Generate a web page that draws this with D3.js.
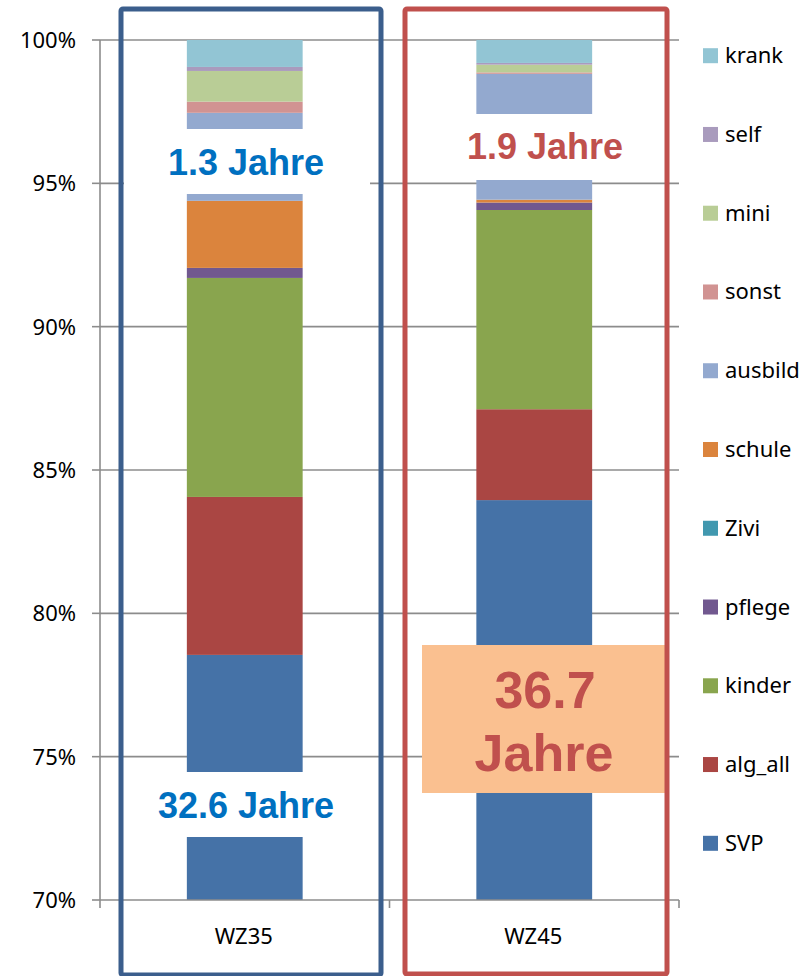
<!DOCTYPE html>
<html><head><meta charset="utf-8">
<script src="https://cdn.jsdelivr.net/npm/d3@7"></script>
<style>body{margin:0;background:#fff}svg{display:block}</style>
</head><body>
<svg id="c" width="810" height="976"></svg>
<script>
const categories = ["WZ35", "WZ45"];
const seriesKeys = ["SVP","alg_all","kinder","pflege","Zivi","schule","ausbild","sonst","mini","self","krank"];
const SVP     = [78.55, 83.95];
const alg_all = [5.51, 3.17];
const kinder  = [7.64, 6.95];
const pflege  = [0.35, 0.26];
const Zivi    = [0.00, 0.00];
const schule  = [2.34, 0.10];
const ausbild = [3.07, 4.39];
const sonst   = [0.39, 0.05];
const mini    = [1.07, 0.27];
const self    = [0.14, 0.06];
const krank   = [0.94, 0.80];
const seriesValues = {SVP, alg_all, kinder, pflege, Zivi, schule, ausbild, sonst, mini, self, krank};
const colors = {SVP:"#4572A7",alg_all:"#AA4643",kinder:"#89A54E",pflege:"#71588F",Zivi:"#4198AF",
  schule:"#DB843D",ausbild:"#93A9CF",sonst:"#D19392",mini:"#B9CD96",self:"#A99BBD",krank:"#92C5D4"};
const yTicks = [70,75,80,85,90,95,100];
const legendOrder = ["krank","self","mini","sonst","ausbild","schule","Zivi","pflege","kinder","alg_all","SVP"];

const svg = d3.select("#c");
const x = d3.scaleBand().domain(categories).range([100,679]).paddingInner(0.6).paddingOuter(0.3);
const xb = d3.scaleBand().domain(categories).range([100,679]);
const y = d3.scaleLinear().domain([70,100]).range([900,40]).clamp(true);
const font = "'Noto Sans', 'Open Sans', sans-serif";
const grid = "#8c8c8c";

// gridlines
svg.append("g").selectAll("line").data(yTicks.filter(d=>d>70)).join("line")
  .attr("x1",100).attr("x2",679).attr("y1",d=>y(d)).attr("y2",d=>y(d))
  .attr("stroke",grid).attr("stroke-width",1.6);

// stacked data
const rows = categories.map((c,i)=>{const o={cat:c}; seriesKeys.forEach(k=>o[k]=seriesValues[k][i]); return o;});
const stack = d3.stack().keys(seriesKeys)(rows);
svg.append("g").selectAll("g").data(stack).join("g").attr("fill",d=>colors[d.key])
  .selectAll("rect").data(d=>d).join("rect")
  .attr("x",d=>x(d.data.cat)).attr("width",x.bandwidth())
  .attr("y",d=>y(d[1])).attr("height",d=>y(d[0])-y(d[1]));

// axes
svg.append("line").attr("x1",100).attr("x2",100).attr("y1",y(100)).attr("y2",y(70)).attr("stroke",grid).attr("stroke-width",1.6);
svg.append("line").attr("x1",100).attr("x2",679).attr("y1",y(70)).attr("y2",y(70)).attr("stroke",grid).attr("stroke-width",1.6);
svg.append("g").selectAll("line").data(yTicks).join("line")
  .attr("x1",92).attr("x2",100).attr("y1",d=>y(d)).attr("y2",d=>y(d)).attr("stroke",grid).attr("stroke-width",1.6);
svg.append("g").selectAll("text").data(yTicks).join("text")
  .attr("x",76).attr("y",d=>y(d)+8).attr("text-anchor","end")
  .attr("font-family",font).attr("font-size",22).attr("fill","#000").text(d=>d+"%");
const xTickPos = [100].concat(categories.map(c=>xb(c)+xb.bandwidth()));
svg.append("g").selectAll("line").data(xTickPos).join("line")
  .attr("x1",d=>d).attr("x2",d=>d).attr("y1",y(70)).attr("y2",y(70)+8).attr("stroke",grid).attr("stroke-width",1.6);
svg.append("g").selectAll("text").data(categories).join("text")
  .attr("x",d=>xb(d)+xb.bandwidth()/2-1).attr("y",944).attr("text-anchor","middle")
  .attr("font-family",font).attr("font-size",22).attr("fill","#000").text(d=>d);

// annotation boxes
const bold = "'Liberation Sans', Arial, sans-serif";
svg.append("rect").attr("x",124).attr("y",129).attr("width",246).attr("height",65).attr("fill","#fff");
svg.append("rect").attr("x",124).attr("y",772).attr("width",246).attr("height",65).attr("fill","#fff");
svg.append("rect").attr("x",440).attr("y",114).attr("width",200).attr("height",66).attr("fill","#fff");
svg.append("rect").attr("x",422).attr("y",645).attr("width",243).attr("height",148).attr("fill","#FAC090");
const ann = [
  {t:"1.3 Jahre",x:246,y:175,s:36,c:"#0070C0"},
  {t:"32.6 Jahre",x:246,y:818,s:36,c:"#0070C0"},
  {t:"1.9 Jahre",x:545,y:159,s:36,c:"#C0504D"},
  {t:"36.7",x:545,y:708,s:52,c:"#C0504D"},
  {t:"Jahre",x:544,y:771,s:52,c:"#C0504D"}
];
svg.append("g").selectAll("text").data(ann).join("text")
  .attr("x",d=>d.x).attr("y",d=>d.y).attr("text-anchor","middle")
  .attr("font-family",bold).attr("font-weight","bold").attr("font-size",d=>d.s).attr("fill",d=>d.c).text(d=>d.t);

// frames
svg.append("rect").attr("x",121).attr("y",9).attr("width",260).attr("height",966)
  .attr("fill","none").attr("stroke","#3B5E8C").attr("stroke-width",5).attr("rx",2);
svg.append("rect").attr("x",405).attr("y",9).attr("width",262).attr("height",965)
  .attr("fill","none").attr("stroke","#C0504D").attr("stroke-width",5).attr("rx",2);

// legend
const lg = svg.append("g").selectAll("g").data(legendOrder).join("g")
  .attr("transform",(d,i)=>`translate(703,${55.7+i*78.76})`);
lg.append("rect").attr("x",0).attr("y",-7.5).attr("width",15).attr("height",15).attr("fill",d=>colors[d]);
lg.append("text").attr("x",22).attr("y",7.5).attr("font-family",font).attr("font-size",22).attr("fill","#000").text(d=>d);
</script>
</body></html>
